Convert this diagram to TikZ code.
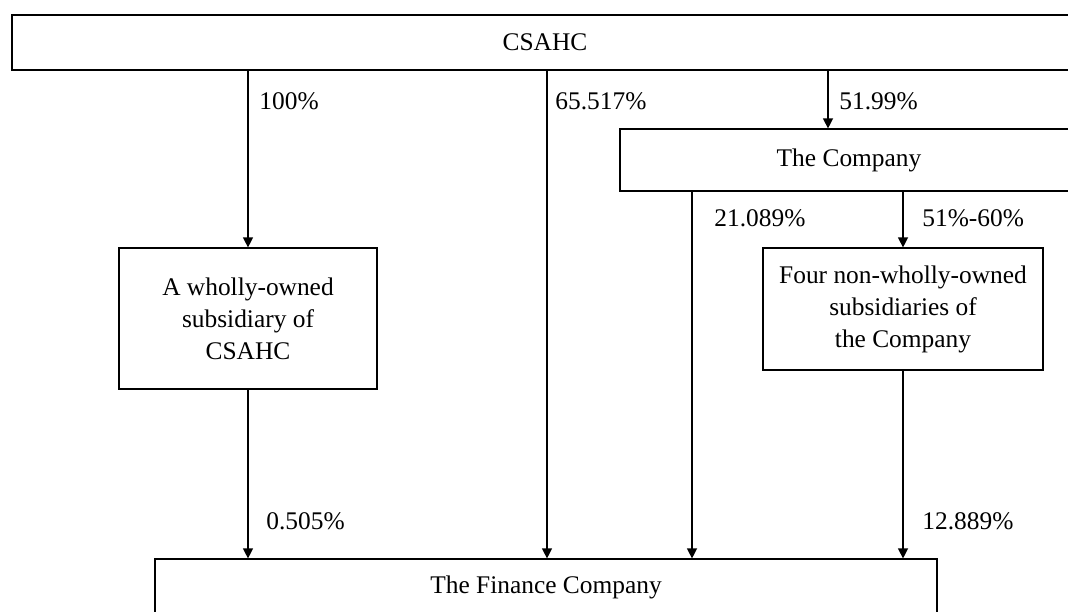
\documentclass[tikz,border=0pt]{standalone}
\usepackage{fontspec}
\setmainfont{Liberation Serif}
\usetikzlibrary{arrows.meta}
\begin{document}
\begin{tikzpicture}[x=0.5pt,y=-0.5pt,
  box/.style={draw,line width=0.6pt,inner sep=0pt,align=center,font=\fontsize{12.7}{16}\selectfont},
  arr/.style={line width=0.6pt,-{Triangle[width=5pt,length=5pt]}},
  lab/.style={anchor=west,inner sep=0pt,font=\fontsize{12.7}{16}\selectfont}]
\useasboundingbox (0,0) rectangle (1068,611);
\begin{scope}
\clip (0,0) rectangle (1068,611);
\node[box,minimum width=533pt,minimum height=27.5pt] (csahc) at (545,42.5) {CSAHC};
\node[box,minimum width=229pt,minimum height=31pt] (comp) at (849,160) {The Company};
\node[box,minimum width=129pt,minimum height=70.5pt] (sub) at (248,318.5) {A wholly-owned\\subsidiary of\\CSAHC};
\node[box,minimum width=140pt,minimum height=61pt] (four) at (903,309) {Four non-wholly-owned\\subsidiaries of\\the Company};
\node[box,minimum width=391pt,minimum height=28pt] (fin) at (546,587) {The Finance Company};
\end{scope}
\coordinate (m) at (547,0);
\coordinate (c) at (828,0);
\coordinate (d) at (692,0);
\draw[arr] (sub.north |- csahc.south) -- (sub.north);
\draw[arr] (sub.south) -- (sub.south |- fin.north);
\draw[arr] (m |- csahc.south) -- (m |- fin.north);
\draw[arr] (c |- csahc.south) -- (c |- comp.north);
\draw[arr] (d |- comp.south) -- (d |- fin.north);
\draw[arr] (four.north |- comp.south) -- (four.north);
\draw[arr] (four.south) -- (four.south |- fin.north);
\node[lab] (l1) at (259,101) {100\%};
\node[lab] (l2) at (555,101) {65.517\%};
\node[lab] (l3) at (839,101) {51.99\%};
\node[lab] (l4) at (714,218) {21.089\%};
\node[lab] (l5) at (922,218) {51\%-60\%};
\node[lab] (l6) at (266,521) {0.505\%};
\node[lab] (l7) at (922,521) {12.889\%};
\end{tikzpicture}
\end{document}
